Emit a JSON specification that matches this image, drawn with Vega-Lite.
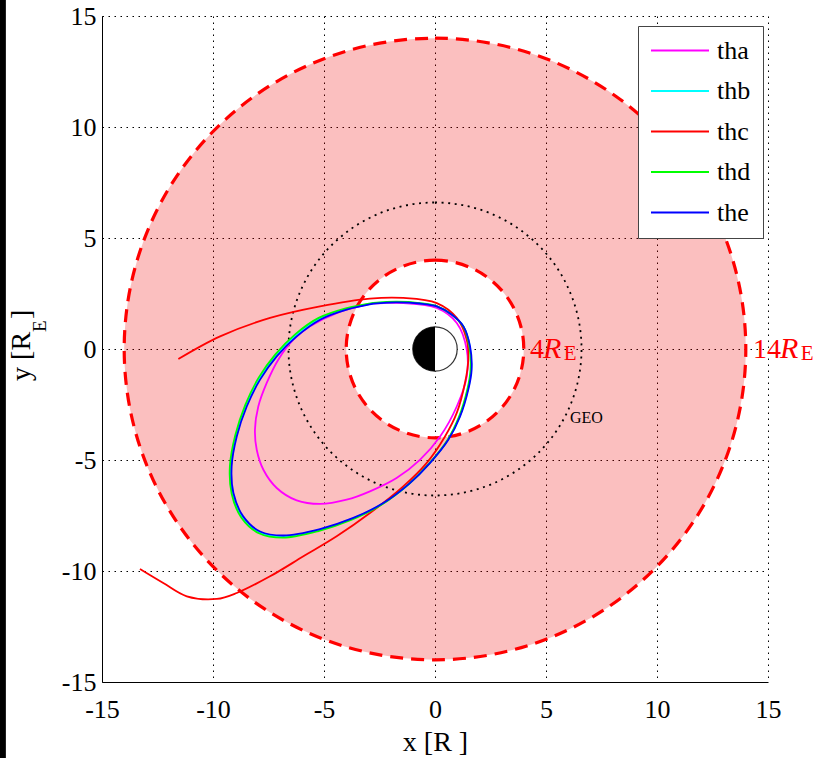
{
  "$schema": "https://vega.github.io/schema/vega-lite/v6.json",
  "width": 666,
  "height": 666,
  "autosize": {"type": "none"},
  "padding": {"left": 102, "top": 16, "right": 54, "bottom": 76},
  "background": "white",
  "config": {
    "font": "Liberation Serif",
    "view": {"stroke": null},
    "style": {
      "guide-label": {"font": "Liberation Serif", "fill": "black"},
      "guide-title": {"font": "Liberation Serif", "fill": "black"}
    },
    "legend": {"labelFont": "Liberation Serif"},
    "axis": {
      "grid": true,
      "gridColor": "black",
      "gridDash": [1.5, 4.5],
      "gridWidth": 1,
      "gridOpacity": 1,
      "domainColor": "black",
      "domainWidth": 1,
      "ticks": false,
      "labelFont": "Liberation Serif",
      "labelFontSize": 26,
      "labelColor": "black",
      "labelFlush": false,
      "labelOverlap": false,
      "labelBound": false,
      "labelExpr": "'' + datum.value",
      "titleFont": "Liberation Serif",
      "titleFontSize": 28,
      "titleFontWeight": "normal",
      "titleColor": "black"
    }
  },
  "datasets": {
    "zone": [{"r_in": 4, "r_out": 14, "a0": 0, "a1": 360}],
    "rings": [{"r": 4, "a0": 0, "a1": 360}, {"r": 14, "a0": 0, "a1": 360}],
    "geo": [{"r": 6.6, "a0": 0, "a1": 360}],
    "earth": [{"r": 1, "a0": 0, "a1": 360}],
    "night": [{"r": 1, "a0": 180, "a1": 360}],
    "orbits": [
      {"sat": "tha", "i": 0, "x": -2.93, "y": 2.03},
      {"sat": "tha", "i": 1, "x": -1.43, "y": 2.07},
      {"sat": "tha", "i": 2, "x": 0.08, "y": 1.85},
      {"sat": "tha", "i": 3, "x": 0.98, "y": 1.17},
      {"sat": "tha", "i": 4, "x": 1.43, "y": -0.03},
      {"sat": "tha", "i": 5, "x": 1.43, "y": -1.23},
      {"sat": "tha", "i": 6, "x": 0.98, "y": -2.59},
      {"sat": "tha", "i": 7, "x": 0.23, "y": -3.94},
      {"sat": "tha", "i": 8, "x": -0.68, "y": -4.99},
      {"sat": "tha", "i": 9, "x": -1.73, "y": -5.81},
      {"sat": "tha", "i": 10, "x": -2.93, "y": -6.41},
      {"sat": "tha", "i": 11, "x": -3.98, "y": -6.79},
      {"sat": "tha", "i": 12, "x": -5.18, "y": -6.98},
      {"sat": "tha", "i": 13, "x": -6.23, "y": -6.82},
      {"sat": "tha", "i": 14, "x": -7.13, "y": -6.26},
      {"sat": "tha", "i": 15, "x": -7.73, "y": -5.44},
      {"sat": "tha", "i": 16, "x": -8.03, "y": -4.54},
      {"sat": "tha", "i": 17, "x": -8.11, "y": -3.64},
      {"sat": "tha", "i": 18, "x": -7.96, "y": -2.59},
      {"sat": "tha", "i": 19, "x": -7.58, "y": -1.53},
      {"sat": "tha", "i": 20, "x": -7.06, "y": -0.48},
      {"sat": "tha", "i": 21, "x": -6.38, "y": 0.42},
      {"sat": "tha", "i": 22, "x": -5.63, "y": 1.02},
      {"sat": "tha", "i": 23, "x": -4.43, "y": 1.62},
      {"sat": "tha", "i": 24, "x": -2.93, "y": 2.03},

      {"sat": "thb", "i": 0, "x": -2.78, "y": 2.06},
      {"sat": "thb", "i": 1, "x": -1.73, "y": 2.11},
      {"sat": "thb", "i": 2, "x": -0.70, "y": 2.06},
      {"sat": "thb", "i": 3, "x": 0.08, "y": 1.92},
      {"sat": "thb", "i": 4, "x": 0.75, "y": 1.55},
      {"sat": "thb", "i": 5, "x": 1.28, "y": 1.01},
      {"sat": "thb", "i": 6, "x": 1.57, "y": 0.11},
      {"sat": "thb", "i": 7, "x": 1.63, "y": -0.94},
      {"sat": "thb", "i": 8, "x": 1.48, "y": -1.84},
      {"sat": "thb", "i": 9, "x": 1.11, "y": -3.05},
      {"sat": "thb", "i": 10, "x": 0.58, "y": -4.10},
      {"sat": "thb", "i": 11, "x": -0.26, "y": -5.17},
      {"sat": "thb", "i": 12, "x": -1.17, "y": -6.08},
      {"sat": "thb", "i": 13, "x": -2.38, "y": -6.98},
      {"sat": "thb", "i": 14, "x": -3.73, "y": -7.65},
      {"sat": "thb", "i": 15, "x": -5.21, "y": -8.15},
      {"sat": "thb", "i": 16, "x": -6.84, "y": -8.45},
      {"sat": "thb", "i": 17, "x": -7.90, "y": -8.26},
      {"sat": "thb", "i": 18, "x": -8.68, "y": -7.57},
      {"sat": "thb", "i": 19, "x": -9.12, "y": -6.50},
      {"sat": "thb", "i": 20, "x": -9.20, "y": -5.29},
      {"sat": "thb", "i": 21, "x": -8.96, "y": -3.92},
      {"sat": "thb", "i": 22, "x": -8.51, "y": -2.56},
      {"sat": "thb", "i": 23, "x": -7.91, "y": -1.34},
      {"sat": "thb", "i": 24, "x": -7.16, "y": -0.29},
      {"sat": "thb", "i": 25, "x": -6.26, "y": 0.61},
      {"sat": "thb", "i": 26, "x": -5.21, "y": 1.36},
      {"sat": "thb", "i": 27, "x": -4.00, "y": 1.80},
      {"sat": "thb", "i": 28, "x": -2.78, "y": 2.06},

      {"sat": "thc", "i": 0, "x": -11.56, "y": -0.45},
      {"sat": "thc", "i": 1, "x": -9.68, "y": 0.57},
      {"sat": "thc", "i": 2, "x": -7.43, "y": 1.40},
      {"sat": "thc", "i": 3, "x": -5.18, "y": 1.92},
      {"sat": "thc", "i": 4, "x": -2.93, "y": 2.27},
      {"sat": "thc", "i": 5, "x": -1.43, "y": 2.30},
      {"sat": "thc", "i": 6, "x": 0.08, "y": 2.07},
      {"sat": "thc", "i": 7, "x": 0.98, "y": 1.40},
      {"sat": "thc", "i": 8, "x": 1.43, "y": 0.42},
      {"sat": "thc", "i": 9, "x": 1.50, "y": -0.48},
      {"sat": "thc", "i": 10, "x": 1.35, "y": -1.53},
      {"sat": "thc", "i": 11, "x": 0.98, "y": -2.88},
      {"sat": "thc", "i": 12, "x": 0.45, "y": -3.94},
      {"sat": "thc", "i": 13, "x": -0.38, "y": -5.14},
      {"sat": "thc", "i": 14, "x": -1.43, "y": -6.19},
      {"sat": "thc", "i": 15, "x": -2.93, "y": -7.39},
      {"sat": "thc", "i": 16, "x": -4.43, "y": -8.44},
      {"sat": "thc", "i": 17, "x": -5.93, "y": -9.34},
      {"sat": "thc", "i": 18, "x": -7.43, "y": -10.24},
      {"sat": "thc", "i": 19, "x": -8.93, "y": -10.99},
      {"sat": "thc", "i": 20, "x": -9.83, "y": -11.26},
      {"sat": "thc", "i": 21, "x": -11.18, "y": -11.14},
      {"sat": "thc", "i": 22, "x": -12.24, "y": -10.54},
      {"sat": "thc", "i": 23, "x": -13.29, "y": -9.91},

      {"sat": "thd", "i": 0, "x": -2.78, "y": 2.08},
      {"sat": "thd", "i": 1, "x": -1.73, "y": 2.13},
      {"sat": "thd", "i": 2, "x": -0.70, "y": 2.07},
      {"sat": "thd", "i": 3, "x": 0.08, "y": 1.93},
      {"sat": "thd", "i": 4, "x": 0.75, "y": 1.55},
      {"sat": "thd", "i": 5, "x": 1.28, "y": 1.00},
      {"sat": "thd", "i": 6, "x": 1.55, "y": 0.10},
      {"sat": "thd", "i": 7, "x": 1.60, "y": -0.95},
      {"sat": "thd", "i": 8, "x": 1.45, "y": -1.85},
      {"sat": "thd", "i": 9, "x": 1.08, "y": -3.06},
      {"sat": "thd", "i": 10, "x": 0.55, "y": -4.12},
      {"sat": "thd", "i": 11, "x": -0.30, "y": -5.20},
      {"sat": "thd", "i": 12, "x": -1.22, "y": -6.12},
      {"sat": "thd", "i": 13, "x": -2.43, "y": -7.03},
      {"sat": "thd", "i": 14, "x": -3.78, "y": -7.70},
      {"sat": "thd", "i": 15, "x": -5.25, "y": -8.20},
      {"sat": "thd", "i": 16, "x": -6.85, "y": -8.50},
      {"sat": "thd", "i": 17, "x": -7.93, "y": -8.30},
      {"sat": "thd", "i": 18, "x": -8.72, "y": -7.60},
      {"sat": "thd", "i": 19, "x": -9.16, "y": -6.52},
      {"sat": "thd", "i": 20, "x": -9.24, "y": -5.28},
      {"sat": "thd", "i": 21, "x": -9.00, "y": -3.90},
      {"sat": "thd", "i": 22, "x": -8.55, "y": -2.53},
      {"sat": "thd", "i": 23, "x": -7.95, "y": -1.30},
      {"sat": "thd", "i": 24, "x": -7.20, "y": -0.25},
      {"sat": "thd", "i": 25, "x": -6.30, "y": 0.66},
      {"sat": "thd", "i": 26, "x": -5.24, "y": 1.40},
      {"sat": "thd", "i": 27, "x": -4.02, "y": 1.83},
      {"sat": "thd", "i": 28, "x": -2.78, "y": 2.08},

      {"sat": "the", "i": 0, "x": -2.78, "y": 2.04},
      {"sat": "the", "i": 1, "x": -1.73, "y": 2.10},
      {"sat": "the", "i": 2, "x": -0.70, "y": 2.05},
      {"sat": "the", "i": 3, "x": 0.08, "y": 1.92},
      {"sat": "the", "i": 4, "x": 0.75, "y": 1.55},
      {"sat": "the", "i": 5, "x": 1.28, "y": 1.02},
      {"sat": "the", "i": 6, "x": 1.58, "y": 0.12},
      {"sat": "the", "i": 7, "x": 1.65, "y": -0.93},
      {"sat": "the", "i": 8, "x": 1.50, "y": -1.83},
      {"sat": "the", "i": 9, "x": 1.13, "y": -3.04},
      {"sat": "the", "i": 10, "x": 0.60, "y": -4.09},
      {"sat": "the", "i": 11, "x": -0.23, "y": -5.14},
      {"sat": "the", "i": 12, "x": -1.13, "y": -6.04},
      {"sat": "the", "i": 13, "x": -2.33, "y": -6.94},
      {"sat": "the", "i": 14, "x": -3.68, "y": -7.61},
      {"sat": "the", "i": 15, "x": -5.18, "y": -8.11},
      {"sat": "the", "i": 16, "x": -6.83, "y": -8.40},
      {"sat": "the", "i": 17, "x": -7.88, "y": -8.22},
      {"sat": "the", "i": 18, "x": -8.64, "y": -7.54},
      {"sat": "the", "i": 19, "x": -9.08, "y": -6.49},
      {"sat": "the", "i": 20, "x": -9.16, "y": -5.29},
      {"sat": "the", "i": 21, "x": -8.93, "y": -3.94},
      {"sat": "the", "i": 22, "x": -8.48, "y": -2.59},
      {"sat": "the", "i": 23, "x": -7.88, "y": -1.38},
      {"sat": "the", "i": 24, "x": -7.13, "y": -0.33},
      {"sat": "the", "i": 25, "x": -6.23, "y": 0.57},
      {"sat": "the", "i": 26, "x": -5.18, "y": 1.32},
      {"sat": "the", "i": 27, "x": -3.98, "y": 1.77},
      {"sat": "the", "i": 28, "x": -2.78, "y": 2.04}
    ],
    "labels": [
      {"t": "4", "x": 4.28, "y": -0.41, "k": "num"},
      {"t": "14", "x": 14.32, "y": -0.41, "k": "num"},
      {"t": "R", "x": 4.86, "y": -0.41, "k": "R"},
      {"t": "R", "x": 15.54, "y": -0.41, "k": "R"},
      {"t": "E", "x": 5.8, "y": -0.49, "k": "sub"},
      {"t": "E", "x": 16.48, "y": -0.49, "k": "sub"},
      {"t": "GEO", "x": 6.08, "y": -3.32, "k": "geo"}
    ],
    "ytitle": [
      {"t": "y [R", "x": -18.24, "y": 0.77, "k": "main"},
      {"t": "E", "x": -17.52, "y": 0.77, "k": "sub"},
      {"t": "]", "x": -18.24, "y": 1.35, "k": "close"}
    ]
  },
  "layer": [
    {
      "data": {"name": "zone"},
      "mark": {"type": "arc", "fill": "#ef0000", "fillOpacity": 0.25, "strokeWidth": 0},
      "encoding": {
        "radius": {"field": "r_out", "type": "quantitative", "scale": {"type": "linear", "domain": [0, 15], "range": [0, 333], "zero": true, "nice": false}},
        "radius2": {"field": "r_in"},
        "theta": {"field": "a0", "type": "quantitative", "scale": {"domain": [0, 360], "range": [0, 6.2831853072]}, "stack": null},
        "theta2": {"field": "a1"}
      }
    },
    {
      "data": {"name": "geo"},
      "mark": {"type": "arc", "filled": false, "color": "black", "strokeWidth": 1.8, "strokeDash": [2, 4.6]},
      "encoding": {
        "radius": {"field": "r", "type": "quantitative", "scale": {"type": "linear", "domain": [0, 15], "range": [0, 333], "zero": true, "nice": false}},
        "theta": {"field": "a0", "type": "quantitative", "scale": {"domain": [0, 360], "range": [0, 6.2831853072]}, "stack": null},
        "theta2": {"field": "a1"}
      }
    },
    {
      "data": {"name": "rings"},
      "mark": {"type": "arc", "filled": false, "color": "#ff0000", "strokeWidth": 3.2, "strokeDash": [13, 8]},
      "encoding": {
        "radius": {"field": "r", "type": "quantitative", "scale": {"type": "linear", "domain": [0, 15], "range": [0, 333], "zero": true, "nice": false}},
        "theta": {"field": "a0", "type": "quantitative", "scale": {"domain": [0, 360], "range": [0, 6.2831853072]}, "stack": null},
        "theta2": {"field": "a1"}
      }
    },
    {
      "data": {"name": "orbits"},
      "mark": {"type": "line", "strokeWidth": 1.8, "interpolate": "catmull-rom"},
      "encoding": {
        "x": {
          "field": "x", "type": "quantitative",
          "scale": {"domain": [-15, 15], "nice": false, "zero": false},
          "axis": {"values": [-15, -10, -5, 0, 5, 10, 15], "title": "x [R   ]", "labelPadding": 14, "titlePadding": 6}
        },
        "y": {
          "field": "y", "type": "quantitative",
          "scale": {"domain": [-15, 15], "nice": false, "zero": false},
          "axis": {"values": [-15, -10, -5, 0, 5, 10, 15], "title": "", "labelPadding": 6}
        },
        "order": {"field": "i", "type": "quantitative"},
        "color": {
          "field": "sat", "type": "nominal",
          "scale": {"domain": ["tha", "thb", "thc", "thd", "the"], "range": ["#ff00ff", "#00ffff", "#ff0000", "#00ff00", "#0000ff"]},
          "legend": {
            "orient": "none", "legendX": 536, "legendY": 10,
            "title": null,
            "symbolType": "stroke", "symbolSize": 3364, "symbolStrokeWidth": 2,
            "labelFont": "Liberation Serif", "labelFontSize": 26, "labelColor": "black", "labelOffset": 7,
            "fillColor": "white", "strokeColor": "#444",
            "padding": 12, "rowPadding": 13.5, "clipHeight": 25
          }
        }
      }
    },
    {
      "data": {"name": "earth"},
      "mark": {"type": "arc", "fill": "white", "stroke": "#333", "strokeWidth": 1.2},
      "encoding": {
        "radius": {"field": "r", "type": "quantitative", "scale": {"type": "linear", "domain": [0, 15], "range": [0, 333], "zero": true, "nice": false}},
        "theta": {"field": "a0", "type": "quantitative", "scale": {"domain": [0, 360], "range": [0, 6.2831853072]}, "stack": null},
        "theta2": {"field": "a1"}
      }
    },
    {
      "data": {"name": "night"},
      "mark": {"type": "arc", "fill": "black", "strokeWidth": 0},
      "encoding": {
        "radius": {"field": "r", "type": "quantitative", "scale": {"type": "linear", "domain": [0, 15], "range": [0, 333], "zero": true, "nice": false}},
        "theta": {"field": "a0", "type": "quantitative", "scale": {"domain": [0, 360], "range": [0, 6.2831853072]}, "stack": null},
        "theta2": {"field": "a1"}
      }
    },
    {
      "data": {"name": "labels"},
      "transform": [{"filter": "datum.k === 'num'"}],
      "mark": {"type": "text", "align": "left", "baseline": "alphabetic", "font": "Liberation Serif", "fontSize": 28, "color": "#ff0000"},
      "encoding": {
        "x": {"field": "x", "type": "quantitative"},
        "y": {"field": "y", "type": "quantitative"},
        "text": {"field": "t"}
      }
    },
    {
      "data": {"name": "labels"},
      "transform": [{"filter": "datum.k === 'R'"}],
      "mark": {"type": "text", "align": "left", "baseline": "alphabetic", "font": "Liberation Serif", "fontStyle": "italic", "fontSize": 30, "color": "#ff0000"},
      "encoding": {
        "x": {"field": "x", "type": "quantitative"},
        "y": {"field": "y", "type": "quantitative"},
        "text": {"field": "t"}
      }
    },
    {
      "data": {"name": "labels"},
      "transform": [{"filter": "datum.k === 'sub'"}],
      "mark": {"type": "text", "align": "left", "baseline": "alphabetic", "font": "Liberation Serif", "fontSize": 21, "color": "#ff0000"},
      "encoding": {
        "x": {"field": "x", "type": "quantitative"},
        "y": {"field": "y", "type": "quantitative"},
        "text": {"field": "t"}
      }
    },
    {
      "data": {"name": "labels"},
      "transform": [{"filter": "datum.k === 'geo'"}],
      "mark": {"type": "text", "align": "left", "baseline": "alphabetic", "font": "Liberation Serif", "fontSize": 16, "color": "black"},
      "encoding": {
        "x": {"field": "x", "type": "quantitative"},
        "y": {"field": "y", "type": "quantitative"},
        "text": {"field": "t"}
      }
    },
    {
      "data": {"name": "ytitle"},
      "transform": [{"filter": "datum.k === 'main'"}],
      "mark": {"type": "text", "align": "right", "baseline": "alphabetic", "angle": 270, "font": "Liberation Serif", "fontSize": 28, "color": "black"},
      "encoding": {
        "x": {"field": "x", "type": "quantitative"},
        "y": {"field": "y", "type": "quantitative"},
        "text": {"field": "t"}
      }
    },
    {
      "data": {"name": "ytitle"},
      "transform": [{"filter": "datum.k === 'sub'"}],
      "mark": {"type": "text", "align": "left", "baseline": "alphabetic", "angle": 270, "font": "Liberation Serif", "fontSize": 19, "color": "black"},
      "encoding": {
        "x": {"field": "x", "type": "quantitative"},
        "y": {"field": "y", "type": "quantitative"},
        "text": {"field": "t"}
      }
    },
    {
      "data": {"name": "ytitle"},
      "transform": [{"filter": "datum.k === 'close'"}],
      "mark": {"type": "text", "align": "left", "baseline": "alphabetic", "angle": 270, "font": "Liberation Serif", "fontSize": 28, "color": "black"},
      "encoding": {
        "x": {"field": "x", "type": "quantitative"},
        "y": {"field": "y", "type": "quantitative"},
        "text": {"field": "t"}
      }
    },
    {
      "data": {"values": [{"x": -19.8, "x1": -19.33, "y": 16, "y1": -19}]},
      "mark": {"type": "rect", "color": "black"},
      "encoding": {
        "x": {"field": "x", "type": "quantitative"},
        "x2": {"field": "x1"},
        "y": {"field": "y", "type": "quantitative"},
        "y2": {"field": "y1"}
      }
    }
  ]
}
